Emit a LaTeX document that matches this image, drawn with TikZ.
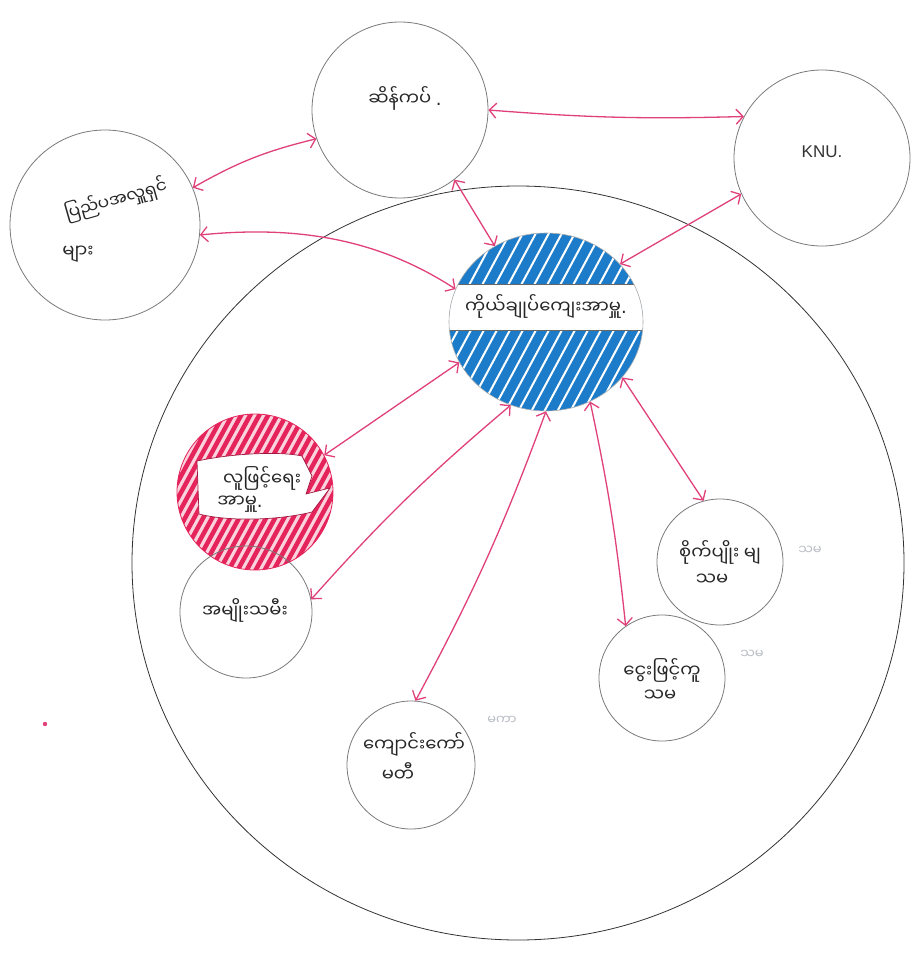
\documentclass[tikz,border=0pt]{standalone}
\usepackage{fontspec}
\newfontfamily\my[Script=Myanmar]{Noto Sans Myanmar UI}
\newfontfamily\lat{DejaVu Sans}
\setsansfont{Liberation Sans}
\usetikzlibrary{arrows.meta,shapes.geometric}
\definecolor{arrowpink}{HTML}{E0417A}
\definecolor{hatchblue}{HTML}{1C7CC9}
\definecolor{hatchred}{HTML}{E4245B}
\definecolor{ringgray}{HTML}{7A7A7A}
\definecolor{fadetext}{HTML}{B8BCC4}
\newcommand\dotmark{{\lat .}}
\tikzset{
  ring/.style={circle,draw=ringgray,line width=0.8pt,inner sep=0pt},
  lbl/.style={font=\my\fontsize{18}{21}\selectfont,inner sep=1pt,text=black!85},
  faded/.style={font=\my\fontsize{13}{15}\selectfont,inner sep=0pt,text=fadetext},
  link/.style={draw=arrowpink,line width=1.3pt,{Straight Barb[length=7pt,width=15pt]}-{Straight Barb[length=7pt,width=15pt]}}
}
\begin{document}
\begin{tikzpicture}[x=1pt,y=-1pt]
\useasboundingbox (0,0) rectangle (919,955);
\fill[white] (0,0) rectangle (919,955);

% big enclosing circle
\node[ellipse,draw=black!80,line width=0.8pt,minimum width=772pt,minimum height=754pt,inner sep=0pt] (big) at (518,563) {};

% blue hatched circle
\begin{scope}
\clip (546,322) ellipse [x radius=97,y radius=89];
\fill[hatchblue] (440,225) rectangle (650,420);
\foreach \i in {-240,-227,...,240} \draw[white,line width=2pt] ({546+\i-55},425) -- ({546+\i+55},220);
\fill[white] (440,284) rectangle (650,330);
\draw[black!60,line width=0.5pt] (440,284) -- (650,284) (440,330) -- (650,330);
\end{scope}

% red hatched circle
\begin{scope}
\clip (255,492) circle [radius=78];
\fill[hatchred!20] (170,410) rectangle (340,575);
\foreach \i in {-200,-191,...,200} \draw[hatchred,line width=4.5pt] ({255+\i-45},575) -- ({255+\i+45},410);
\end{scope}
\fill[white,draw=hatchred!70!black,line width=0.7pt] (197,461) .. controls (240,452) and (285,452) .. (302,456) -- (312,476) -- (306,494) -- (330,488) -- (312,512) .. controls (280,520) and (230,522) .. (199,514) -- cycle;

% circles (nodes)
\node[ring,minimum size=190pt] (donor) at (105,225) {};
\node[ring,minimum size=176pt] (top) at (400,110) {};
\node[ring,minimum size=176pt] (knu) at (822,158) {};
\node[ellipse,draw=ringgray!60,line width=0.6pt,inner sep=0pt,minimum width=194pt,minimum height=178pt] (core) at (546,322) {};
\node[ring,draw=hatchred,minimum size=156pt] (health) at (255,492) {};
\node[ring,minimum size=132pt] (women) at (246,612) {};
\node[ring,minimum size=128pt] (school) at (411,765) {};
\node[ring,minimum size=126pt] (money) at (662,678) {};
\node[ring,minimum size=126pt] (farm) at (720,562) {};

% labels
\node[lbl] (toplbl) at (405,98) {ဆိန်ကပ် \dotmark};
\node[font=\sffamily\fontsize{17}{19}\selectfont,text=black!80] (knulbl) at (822,152) {KNU.};
\node[lbl,rotate=16,font=\my\fontsize{17}{20}\selectfont] (donorlbl1) at (116,200) {ပြည်ပအလှူရှင်};
\node[lbl] (donorlbl2) at (78,254) {များ};
\node[lbl] (corelbl) at (546,306) {ကိုယ်ချုပ်ကျေးအာမှူ\dotmark};
\node[lbl] (healthlbl1) at (262,478) {လူဖြင့်ရေး};
\node[lbl] (healthlbl2) at (240,504) {အာမှူ\dotmark};
\node[lbl] (womenlbl) at (245,610) {အမျိုးသမီး};
\node[lbl] (schoollbl1) at (414,744) {ကျောင်းကော်};
\node[lbl] (schoollbl2) at (398,772) {မတီ};
\node[faded] (schoolfade) at (502,720) {မကာ};
\node[lbl] (moneylbl1) at (662,670) {ငွေးဖြင့်ကူ};
\node[lbl] (moneylbl2) at (660,696) {သမ};
\node[faded] (moneyfade) at (752,654) {သမ};
\node[lbl] (farmlbl1) at (720,552) {စိုက်ပျိုး မျ};
\node[lbl] (farmlbl2) at (712,580) {သမ};
\node[faded] (farmfade) at (810,550) {သမ};

% stray mark
\coordinate (stray) at (45,724);
\fill[arrowpink] (stray) circle [radius=2.2pt];

% connectors
\draw[link] (donor.23) to[bend left=8] (top.199);
\draw[link] (donor.-6) .. controls (300,225) and (380,240) .. (core.160);
\draw[link] (top.-52) -- (core.124);
\draw[link] (top.0) to[bend right=3] (knu.152);
\draw[link] (knu.204) -- (core.38);
\draw[link] (core.205) -- (health.28);
\draw[link] (core.247) to[bend right=4] (women.11);
\draw[link] (core.270) to[bend left=4] (school.86);
\draw[link] (core.299) to[bend left=3] (money.125);
\draw[link] (core.324) -- (farm.105);
\end{tikzpicture}
\end{document}
